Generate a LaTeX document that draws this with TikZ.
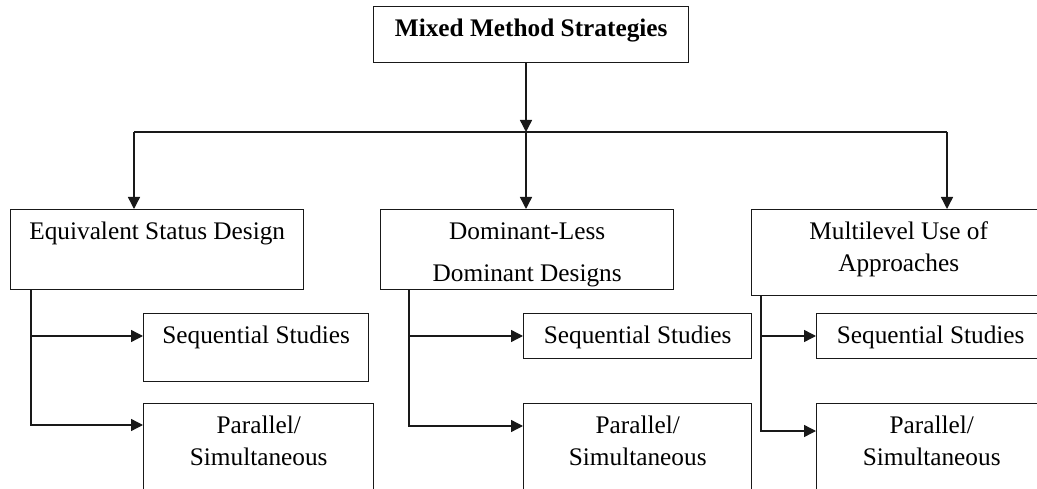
\documentclass[tikz,border=0pt]{standalone}
\usepackage{fontspec}
\setmainfont{Liberation Serif}
\usetikzlibrary{arrows.meta,calc}
\newcommand\mybox[3]{\parbox[c][#2][t]{#1}{\centering\rule{0pt}{30pt}#3\par}}
\tikzset{
  bx/.style={draw=black!90, line width=1.4pt, inner sep=0pt, anchor=north west,
             font=\fontsize{25.3}{32}\selectfont},
  conn/.style={draw=black!90, line width=1.4pt},
  arr/.style={conn, -{Triangle[width=12pt,length=12pt]}}
}
\begin{document}
\begin{tikzpicture}[x=1pt,y=-1pt]
\path[use as bounding box, clip] (0,0) rectangle (1037,489);
\fill[white] (0,0) rectangle (1037,489);

\node[bx] (top) at (373,6) {\mybox{315pt}{56pt}{\bfseries Mixed Method Strategies}};

\node[bx] (b1) at (10,209) {\mybox{293pt}{80pt}{Equivalent Status Design}};
\node[bx] (b2) at (380,209) {\mybox{293pt}{80pt}{Dominant-Less\\[10pt]Dominant Designs}};
\node[bx] (b3) at (751,209) {\mybox{294pt}{86pt}{Multilevel Use of\\Approaches}};

\node[bx] (s1) at (143,313) {\mybox{225pt}{68pt}{Sequential Studies}};
\node[bx] (s2) at (523,313) {\mybox{228pt}{45pt}{Sequential Studies}};
\node[bx] (s3) at (816,313) {\mybox{228pt}{45pt}{Sequential Studies}};

\node[bx] (p1) at (143,403) {\mybox{230pt}{100pt}{Parallel/\\Simultaneous}};
\node[bx] (p2) at (523,403) {\mybox{228pt}{100pt}{Parallel/\\Simultaneous}};
\node[bx] (p3) at (816,403) {\mybox{230pt}{100pt}{Parallel/\\Simultaneous}};

% bus
\coordinate (busL) at (134,132);
\coordinate (busM) at (526,132);
\coordinate (busR) at (947,132);
\draw[arr] (top.south -| busM) -- (busM);
\draw[conn] (busL) -- (busR);
\draw[arr] (busL) -- (busL |- b1.north);
\draw[arr] (busM) -- (busM |- b2.north);
\draw[arr] (busR) -- (busR |- b3.north);

% branches
\coordinate (v1) at ($(b1.south west)+(21,0)$);
\coordinate (v2) at ($(b2.south west)+(29,0)$);
\coordinate (v3) at ($(b3.south west)+(10,0)$);
\coordinate (s1in) at ($(s1.north west)+(0,23)$);
\coordinate (s2in) at ($(s2.north west)+(0,23)$);
\coordinate (s3in) at ($(s3.north west)+(0,23)$);
\coordinate (p1in) at ($(p1.north west)+(0,22)$);
\coordinate (p2in) at ($(p2.north west)+(0,23)$);
\coordinate (p3in) at ($(p3.north west)+(0,28)$);

\draw[arr] (v1) |- (p1in);
\draw[arr] (v1 |- s1in) -- (s1in);
\draw[arr] (v2) |- (p2in);
\draw[arr] (v2 |- s2in) -- (s2in);
\draw[arr] (v3) |- (p3in);
\draw[arr] (v3 |- s3in) -- (s3in);
\end{tikzpicture}
\end{document}
